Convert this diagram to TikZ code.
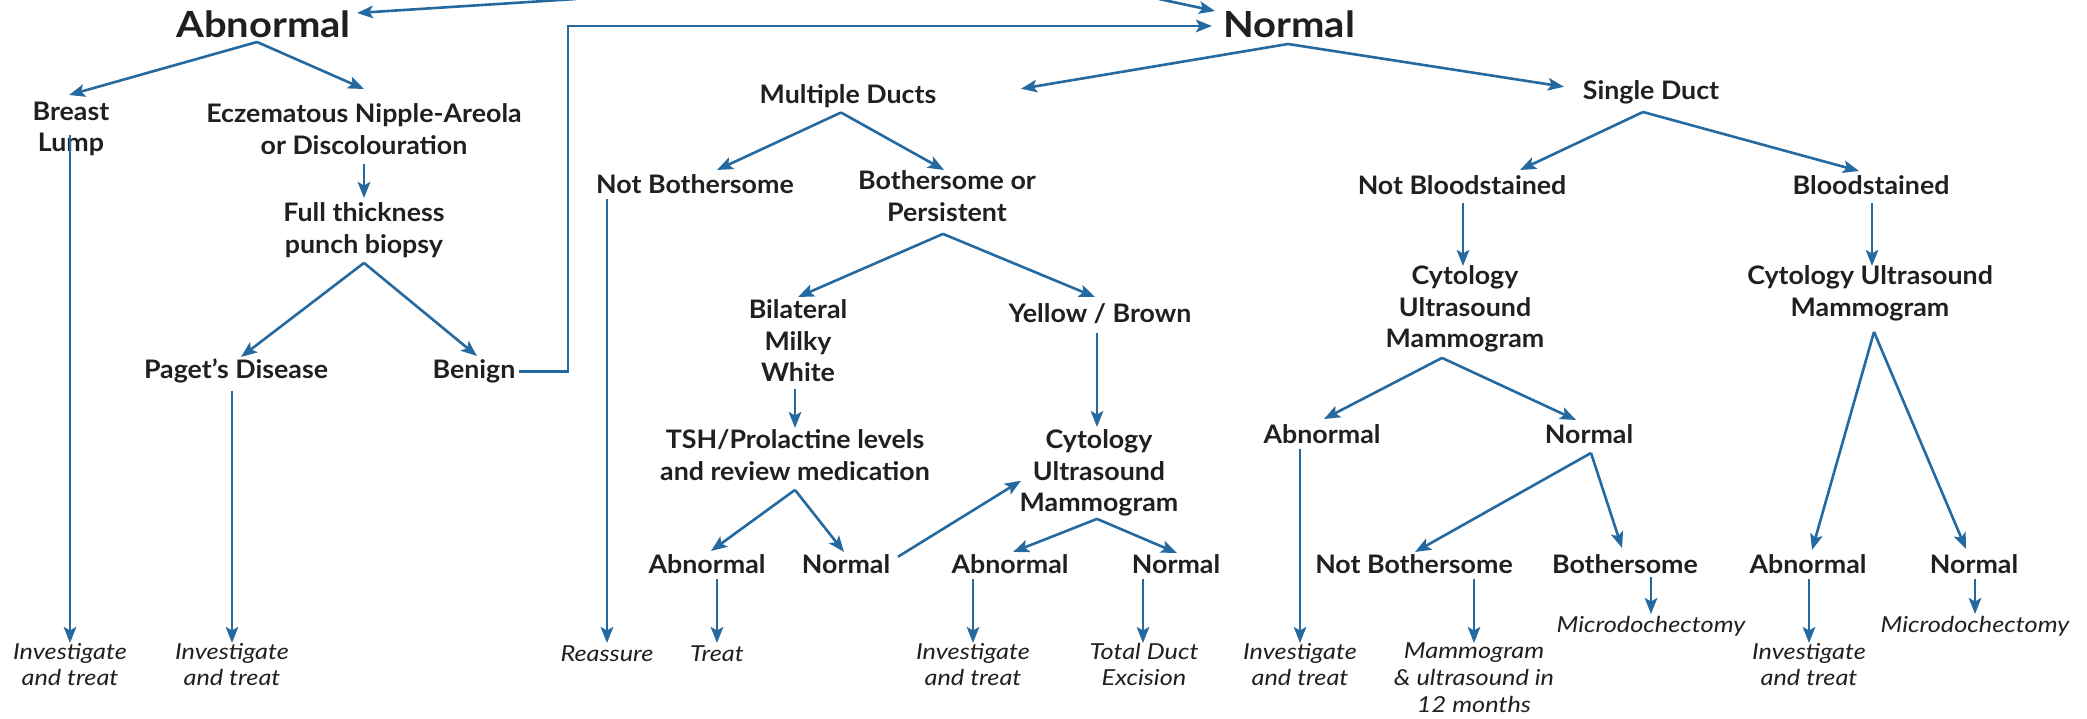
\documentclass[tikz,border=0pt]{standalone}
\usepackage{fontspec}
\setmainfont{Lato}
\newfontfamily\boldfam{Lato}[FakeStretch=1.05]
\newfontfamily\bigfam{Lato}[FakeStretch=1.11]
\newfontfamily\leaffam{Lato}[FakeStretch=1.15]
\usetikzlibrary{arrows.meta,calc}
\definecolor{ablue}{RGB}{36,105,160}
\definecolor{ink}{HTML}{231F20}
\begin{document}
\begin{tikzpicture}[x=1pt,y=-1pt,
  bx/.style={font=\boldfam\fontsize{25.5}{31.5}\selectfont\bfseries, text=ink, align=center,
    inner sep=0pt, outer sep=0pt, anchor=north,
    execute at begin node=\strut, execute at end node=\strut},
  big/.style={font=\bigfam\fontsize{36}{40}\selectfont\bfseries, text=ink, inner sep=0pt, outer sep=0pt, anchor=base},
  lf/.style={font=\leaffam\fontsize{22}{26.7}\selectfont\itshape, text=ink, align=center,
    inner sep=0pt, outer sep=0pt, anchor=north,
    execute at begin node=\strut, execute at end node=\strut},
  arr/.style={draw=ablue, line width=2.6pt, -{Stealth[length=16pt,width=12.5pt,inset=3.5pt]}}]
\fill[white] (0,0) rectangle (2087,719);
\useasboundingbox (0,0) rectangle (2087,719);

% main nodes
\node[big] (abn) at (263.5,38) {Abnormal};
\node[big] (nor) at (1289,38) {Normal};

\node[bx] (brl) at (71,102) {Breast\\Lump};
\node[bx] (ecz) at (364,104) {Eczematous Nipple-Areola\\or Discolouration};
\node[bx] (fth) at (364,203) {Full thickness\\punch biopsy};
\node[bx] (pag) at (236,356) {Paget’s Disease};
\node[bx] (ben) at (474,356) {Benign};
\node[bx] (md) at (848,81) {Multiple Ducts};
\node[bx] (sd) at (1651,77) {Single Duct};
\node[bx] (nb1) at (695,171) {Not Bothersome};
\node[bx] (bop) at (947,171) {Bothersome or\\Persistent};
\node[bx] (bmw) at (798,300) {Bilateral\\Milky\\White};
\node[bx] (yb) at (1100,300) {Yellow / Brown};
\node[bx] (tsh) at (795,430) {TSH/Prolactine levels\\and review medication};
\node[bx] (cym) at (1099,430) {Cytology\\Ultrasound\\Mammogram};
\node[bx] (ab1) at (707,551) {Abnormal};
\node[bx] (no1) at (846,551) {Normal};
\node[bx] (ab2) at (1010,551) {Abnormal};
\node[bx] (no2) at (1176,551) {Normal};
\node[bx] (nbl) at (1462,172) {Not Bloodstained};
\node[bx] (bls) at (1871,172) {Bloodstained};
\node[bx] (cyl) at (1465,266) {Cytology\\Ultrasound\\Mammogram};
\node[bx] (cyr) at (1870,266) {Cytology Ultrasound\\Mammogram};
\node[bx] (ab3) at (1322,421) {Abnormal};
\node[bx] (no3) at (1589,421) {Normal};
\node[bx] (nb2) at (1414,551) {Not Bothersome};
\node[bx] (bth) at (1625,551) {Bothersome};
\node[bx] (ab4) at (1808,551) {Abnormal};
\node[bx] (no4) at (1974,551) {Normal};

% leaves
\node[lf] (l1) at (70,643) {Investigate\\and treat};
\node[lf] (l2) at (232,643) {Investigate\\and treat};
\node[lf] (l3) at (607,643) {Reassure};
\node[lf] (l4) at (717,643) {Treat};
\node[lf] (l5) at (973,643) {Investigate\\and treat};
\node[lf] (l6) at (1144,643) {Total Duct\\Excision};
\node[lf] (l7) at (1300,643) {Investigate\\and treat};
\node[lf] (l8) at (1474,643) {Mammogram\\\& ultrasound in\\12 months};
\node[lf] (l9) at (1651,614) {Microdochectomy};
\node[lf] (l10) at (1809,643) {Investigate\\and treat};
\node[lf] (l11) at (1975,614) {Microdochectomy};

% top incoming connectors
\coordinate (topL) at (576,-1);
\coordinate (topR) at (1159,-1);
\draw[arr] (topL) -- ($(abn.base)+(93.5,-25)$);
\draw[arr] (topR) -- ($(nor.base)+(-74,-27)$);
\coordinate (bnk) at (568,200);
\draw[arr] ($(ben.east)+(4,0)$) -| (bnk) |- ($(nor.base)+(-77,-12)$);

% Abnormal branch
\coordinate (abnA) at ($(abn.base)+(-6.5,4)$);
\draw[arr] (abnA) -- ($(brl.north)+(-2,-7)$);
\draw[arr] (abnA) -- ($(ecz.north)+(0,-15)$);
\draw[arr] (ecz.south) -- ($(fth.north)+(0,-5)$);
\draw[arr] ($(l1.north |- brl.north)+(0,33)$) -- (l1.north);
\draw[arr] (fth.south) -- ($(pag.north)+(5,1)$);
\draw[arr] (fth.south) -- ($(ben.north)+(3,0)$);
\draw[arr] ($(l2.north |- pag.south)+(0,3)$) -- (l2.north);

% Normal branch
\coordinate (norA) at ($(nor.base)+(-1,6)$);
\draw[arr] (norA) -- ($(md.center)+(173,-8)$);
\draw[arr] (norA) -- ($(sd.center)+(-87,-6)$);

% Multiple ducts
\coordinate (mdA) at ($(md.south)+(-7,0)$);
\draw[arr] (mdA) -- ($(nb1.north)+(22,-1)$);
\draw[arr] (mdA) -- ($(bop.north)+(-3,-1)$);
\draw[arr] ($(l3.north |- nb1.south)+(0,-3)$) -- (l3.north);
\coordinate (bopA) at ($(bop.south)+(-4,3)$);
\draw[arr] (bopA) -- ($(bmw.north)+(0,-3)$);
\draw[arr] (bopA) -- ($(yb.north)+(-5,-3)$);
\draw[arr] ($(tsh.north |- bmw.south)+(0,-2)$) -- ($(tsh.north)+(0,-2)$);
\draw[arr] ($(cym.north |- yb.south)+(-2,1)$) -- ($(cym.north)+(-2,-3)$);
\draw[arr] (tsh.south) -- ($(ab1.north)+(4,0)$);
\draw[arr] (tsh.south) -- ($(no1.north)+(-2,1)$);
\draw[arr] ($(no1.center)+(52,-10)$) -- ($(cym.center)+(-78,5)$);
\coordinate (cymA) at ($(cym.south)+(-2,-2.5)$);
\draw[arr] (cymA) -- ($(ab2.north)+(3,1)$);
\draw[arr] (cymA) -- ($(no2.north)+(1,2)$);
\draw[arr] ($(l4.north |- ab1.south)+(0,-4)$) -- (l4.north);
\draw[arr] ($(l5.north |- ab2.south)+(0,-4)$) -- (l5.north);
\draw[arr] ($(l6.north |- no2.south)+(-1,-4)$) -- ($(l6.north)+(-1,0)$);

% Single duct
\coordinate (sdA) at ($(sd.south)+(-8,3.5)$);
\draw[arr] (sdA) -- ($(nbl.north)+(58,-2)$);
\draw[arr] (sdA) -- ($(bls.north)+(-12,-1)$);
\draw[arr] ($(cyl.north |- nbl.south)+(-2,0)$) -- ($(cyl.north)+(-2,0)$);
\draw[arr] ($(cyr.north |- bls.south)+(2,0)$) -- ($(cyr.north)+(2,0)$);
\coordinate (cylA) at ($(cyl.south)+(-23,0.5)$);
\draw[arr] (cylA) -- ($(ab3.north)+(2,-2)$);
\draw[arr] (cylA) -- ($(no3.north)+(-13,-1)$);
\draw[arr] ($(l7.north |- ab3.south)+(0,-4)$) -- (l7.north);
\coordinate (no3A) at ($(no3.south)+(2,0.5)$);
\draw[arr] (no3A) -- ($(nb2.north)+(1,1)$);
\draw[arr] (no3A) -- ($(bth.north)+(-3,-3)$);
\draw[arr] ($(l8.north |- nb2.south)+(0,-4)$) -- (l8.north);
\draw[arr] ($(l9.north |- bth.south)+(0,-6)$) -- (l9.north);
\coordinate (cyrA) at ($(cyr.south)+(4,6)$);
\draw[arr] (cyrA) -- ($(ab4.north)+(4,-1)$);
\draw[arr] (cyrA) -- ($(no4.north)+(-8,-2)$);
\draw[arr] ($(l10.north |- ab4.south)+(0,-4)$) -- (l10.north);
\draw[arr] ($(l11.north |- no4.south)+(0,-4)$) -- (l11.north);
\end{tikzpicture}
\end{document}
